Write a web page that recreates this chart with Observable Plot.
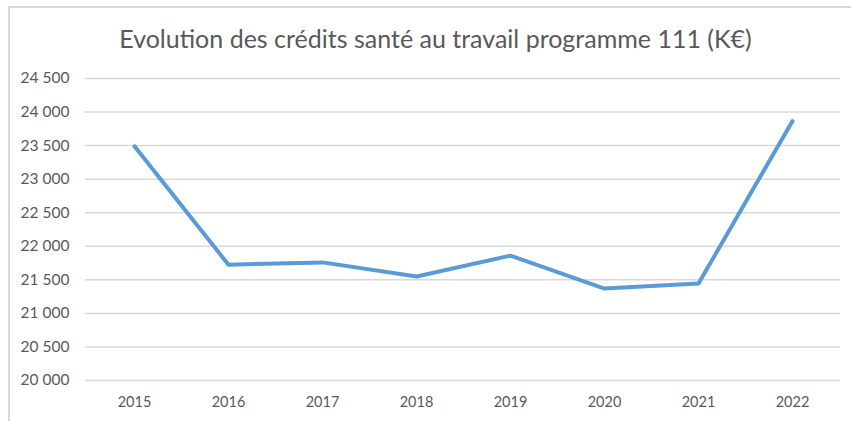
<!DOCTYPE html>
<html>
<head>
<meta charset="utf-8">
<script src="https://cdn.jsdelivr.net/npm/d3@7"></script>
<script src="https://cdn.jsdelivr.net/npm/@observablehq/plot@0.6"></script>
<style>
  html, body { margin: 0; padding: 0; background: #fff; }
  #wrap { position: relative; width: 851px; height: 421px; overflow: hidden; }
  #frame { position: absolute; left: 8px; top: 6px; width: 860px; height: 440px;
           border-left: 2px solid #d9d9d9; border-top: 2px solid #d9d9d9; pointer-events: none; }
  #title { box-sizing: border-box; width: 851px; height: 60px; padding-left: 20px; padding-top: 25px;
           text-align: center; font-family: Lato, sans-serif; font-size: 25px; line-height: 26px;
           color: #595959; font-weight: 400; white-space: nowrap; }
  #chart svg { display: block; }
</style>
</head>
<body>
<div id="wrap">
  <div id="frame"></div>
  <div id="title">Evolution des crédits santé au travail programme 111 (K€)</div>
  <div id="chart"></div>
</div>
<script>
const years = ["2015", "2016", "2017", "2018", "2019", "2020", "2021", "2022"];
const credits = [23490, 21725, 21760, 21550, 21860, 21370, 21445, 23865];
const yTicks = [20000, 20500, 21000, 21500, 22000, 22500, 23000, 23500, 24000, 24500];

const data = years.map((year, i) => ({year, value: credits[i]}));
const fr = d3.formatLocale({decimal: ",", thousands: "\u00A0", grouping: [3], currency: ["", " €"]});
const fmt = fr.format(",d");

const chart = Plot.plot({
  width: 851,
  height: 361,
  marginTop: 18,
  marginBottom: 41,
  marginLeft: 85,
  marginRight: 11,
  x: {type: "point", domain: years, padding: 0.5, label: null},
  y: {domain: [20000, 24500], label: null},
  style: {fontFamily: "Lato, sans-serif", fontSize: "15px", color: "#595959", background: "transparent"},
  marks: [
    Plot.ruleY(yTicks, {stroke: "#d9d9d9", strokeWidth: 1.5}),
    Plot.axisY({ticks: yTicks, tickSize: 0, tickPadding: 16, tickFormat: fmt, label: null, fill: "#595959", fontSize: 15.5}),
    Plot.axisX({tickSize: 0, tickPadding: 16, label: null, fill: "#595959", fontSize: 14.5}),
    Plot.line(data, {x: "year", y: "value", stroke: "#5B9BD5", strokeWidth: 4, strokeLinejoin: "round", strokeLinecap: "round"})
  ]
});
document.getElementById("chart").appendChild(chart);
</script>
</body>
</html>
